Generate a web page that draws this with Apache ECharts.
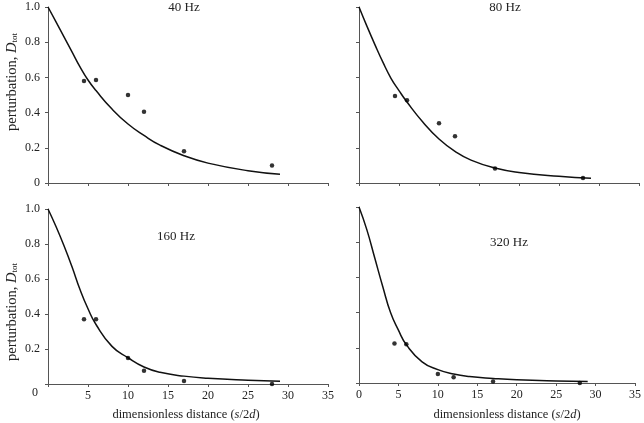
<!DOCTYPE html>
<html>
<head>
<meta charset="utf-8">
<script src="https://cdn.jsdelivr.net/npm/echarts@6/dist/echarts.min.js"></script>
<style>
  html, body { margin: 0; padding: 0; background: #fff; }
  #chart { width: 644px; height: 423px; }
</style>
</head>
<body>
<div id="chart"></div>
<script>
// measured distances (s/2d)
var distX = [4.5, 6, 10, 12, 17, 28];
var dots40 = [0.58, 0.585, 0.50, 0.405, 0.18, 0.10];
var dots80 = [0.495, 0.47, 0.34, 0.265, 0.083, 0.028];
var dots160 = [0.37, 0.37, 0.148, 0.076, 0.017, 0.0];
var dots320 = [0.225, 0.22, 0.051, 0.032, 0.008, 0.0];

// fitted curves
var curveX = [0, 1, 2, 3, 4, 5, 6, 8, 10, 12, 14, 17, 20, 25, 29];
var fit40 = [1.0, 0.915, 0.83, 0.745, 0.66, 0.585, 0.525, 0.42, 0.335, 0.27, 0.215, 0.155, 0.113, 0.07, 0.05];
var fit80 = [1.0, 0.89, 0.785, 0.685, 0.595, 0.525, 0.46, 0.345, 0.25, 0.18, 0.13, 0.085, 0.06, 0.038, 0.027];
var fit160 = [1.0, 0.9, 0.79, 0.67, 0.54, 0.43, 0.34, 0.215, 0.15, 0.097, 0.067, 0.045, 0.033, 0.022, 0.016];
var fit320 = [1.0, 0.87, 0.71, 0.55, 0.40, 0.30, 0.218, 0.12, 0.076, 0.051, 0.037, 0.026, 0.018, 0.011, 0.008];

var panelNames = ['40 Hz', '80 Hz', '160 Hz', '320 Hz'];
var xTicks = [0, 5, 10, 15, 20, 25, 30, 35];
var yTicks = [0, 0.2, 0.4, 0.6, 0.8, 1.0];

var font = '"Liberation Serif", "DejaVu Serif", serif';
var axisColor = '#555';

function zip(xs, ys) {
  return xs.map(function (x, i) { return [x, ys[i]]; });
}

var chart = echarts.init(document.getElementById('chart'));

var grids = [
  {left: 48, top: 7, width: 280, height: 176},
  {left: 359, top: 7, width: 280, height: 176},
  {left: 48, top: 209, width: 280, height: 175},
  {left: 359, top: 207, width: 280, height: 176}
];

var xAxes = grids.map(function (g, i) {
  var bottomRow = i >= 2;
  return {
    gridIndex: i, type: 'value', min: xTicks[0], max: xTicks[xTicks.length - 1], interval: 5,
    axisLine: {lineStyle: {color: axisColor, width: 1}},
    axisTick: {show: true, length: 3, lineStyle: {color: axisColor}},
    splitLine: {show: false},
    axisLabel: {
      show: bottomRow, margin: 6, color: '#222', fontFamily: font, fontSize: 12,
      formatter: function (v) { return (i === 2 && v === 0) ? '' : String(v); }
    }
  };
});

var yAxes = grids.map(function (g, i) {
  var leftCol = i % 2 === 0;
  return {
    gridIndex: i, type: 'value', min: yTicks[0], max: yTicks[yTicks.length - 1], interval: 0.2,
    axisLine: {show: true, lineStyle: {color: axisColor, width: 1}},
    axisTick: {show: true, length: 3, lineStyle: {color: axisColor}},
    splitLine: {show: false},
    axisLabel: {
      show: leftCol, margin: 8, color: '#222', fontFamily: font, fontSize: 12,
      formatter: function (v) {
        if (v === 0) return i === 2 ? '' : '0';
        return v.toFixed(1);
      }
    }
  };
});

var fits = [fit40, fit80, fit160, fit320];
var dots = [dots40, dots80, dots160, dots320];
var series = [];
for (var k = 0; k < 4; k++) {
  series.push({
    type: 'line', xAxisIndex: k, yAxisIndex: k, smooth: 0.5, symbol: 'none',
    lineStyle: {color: '#111', width: 1.5},
    data: zip(curveX, fits[k]), z: 2, silent: true
  });
  series.push({
    type: 'scatter', xAxisIndex: k, yAxisIndex: k, symbol: 'circle', symbolSize: 4.5,
    itemStyle: {color: '#000'},
    data: zip(distX, dots[k]), z: 3, silent: true
  });
}

var titlePos = [[184, 8], [505, 8], [176, 237], [509, 243]];
var graphics = panelNames.map(function (name, i) {
  return {
    type: 'text', x: titlePos[i][0], y: titlePos[i][1],
    style: {text: name, font: '13px ' + font, fill: '#222', align: 'center', verticalAlign: 'middle'}
  };
});

function richFor(size) {
  return {
    i: {fontFamily: font, fontSize: size, fontStyle: 'italic', fill: '#222', color: '#222'},
    sub: {fontFamily: font, fontSize: Math.round(size * 0.65), fill: '#222', color: '#222', padding: [Math.round(size * 0.4), 0, 0, 0]}
  };
}

[[12, 82], [12, 312]].forEach(function (p) {
  graphics.push({
    type: 'text', x: p[0], y: p[1], rotation: Math.PI / 2,
    style: {
      text: 'perturbation, {i|D}{sub|tot}', rich: richFor(14.5),
      font: '14.5px ' + font, fill: '#222', align: 'center', verticalAlign: 'middle'
    }
  });
});

[[186, 415], [507, 415]].forEach(function (p) {
  graphics.push({
    type: 'text', x: p[0], y: p[1],
    style: {
      text: 'dimensionless distance ({i|s}/2{i|d})', rich: richFor(12.5),
      font: '12.5px ' + font, fill: '#222', align: 'center', verticalAlign: 'middle'
    }
  });
});

// lone "0" under the bottom-left panel
graphics.push({
  type: 'text', x: 35, y: 393,
  style: {text: '0', font: '12px ' + font, fill: '#222', align: 'center', verticalAlign: 'middle'}
});

chart.setOption({
  animation: false,
  backgroundColor: '#fff',
  grid: grids,
  xAxis: xAxes,
  yAxis: yAxes,
  series: series,
  graphic: graphics
});
</script>
</body>
</html>
